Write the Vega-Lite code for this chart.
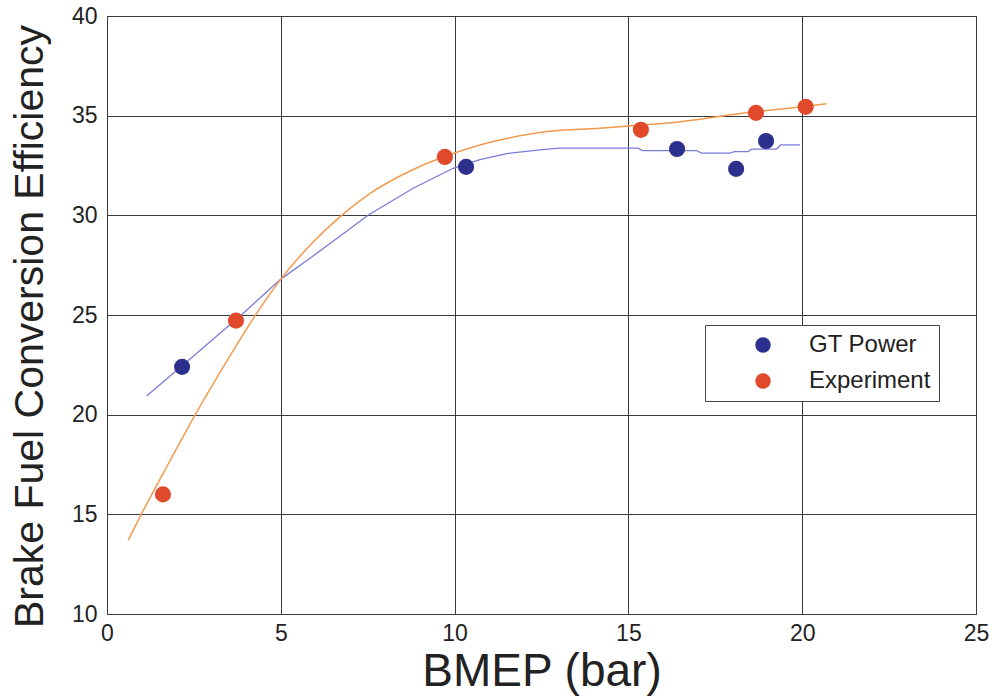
{
  "$schema": "https://vega.github.io/schema/vega-lite/v6.json",
  "autosize": "none",
  "width": 869,
  "height": 598,
  "padding": {"left": 107, "top": 16, "right": 18, "bottom": 84},
  "background": "white",
  "config": {
    "font": "Liberation Sans",
    "view": {"stroke": "#333333", "strokeWidth": 1},
    "axis": {
      "grid": true,
      "gridColor": "#3a3a3a",
      "gridOpacity": 1,
      "gridWidth": 1,
      "domain": false,
      "ticks": false,
      "labelFlush": false,
      "labelFont": "Liberation Sans",
      "labelFontSize": 23,
      "labelColor": "#222222",
      "titleFont": "Liberation Sans",
      "titleFontWeight": "normal",
      "titleColor": "#222222"
    },
    "legend": {
      "orient": "none",
      "legendX": 598,
      "legendY": 309,
      "strokeColor": "#444444",
      "fillColor": "white",
      "padding": 8,
      "symbolOffset": 38,
      "labelOffset": 34,
      "rowPadding": 12,
      "labelFont": "Liberation Sans",
      "labelFontSize": 24,
      "labelColor": "#222222",
      "symbolSize": 240,
      "symbolType": "circle",
      "symbolStrokeWidth": 0
    }
  },
  "datasets": {
    "points": [
      {"series": "GT Power", "bmep": 2.16, "eff": 22.4},
      {"series": "GT Power", "bmep": 10.33, "eff": 32.43},
      {"series": "GT Power", "bmep": 16.4, "eff": 33.33},
      {"series": "GT Power", "bmep": 18.1, "eff": 32.33},
      {"series": "GT Power", "bmep": 18.96, "eff": 33.73},
      {"series": "Experiment", "bmep": 1.61, "eff": 16.0},
      {"series": "Experiment", "bmep": 3.71, "eff": 24.72},
      {"series": "Experiment", "bmep": 9.72, "eff": 32.93},
      {"series": "Experiment", "bmep": 15.36, "eff": 34.29},
      {"series": "Experiment", "bmep": 18.67, "eff": 35.14},
      {"series": "Experiment", "bmep": 20.1, "eff": 35.44}
    ],
    "gtcurve": [
      {"bmep": 1.14, "eff": 20.94},
      {"bmep": 2.5, "eff": 22.95},
      {"bmep": 3.92, "eff": 25.09},
      {"bmep": 4.4, "eff": 25.85},
      {"bmep": 5.0, "eff": 26.8},
      {"bmep": 5.84, "eff": 27.85},
      {"bmep": 6.7, "eff": 28.95},
      {"bmep": 7.52, "eff": 30.02},
      {"bmep": 8.81, "eff": 31.36},
      {"bmep": 9.96, "eff": 32.36},
      {"bmep": 10.73, "eff": 32.8},
      {"bmep": 11.5, "eff": 33.1},
      {"bmep": 12.46, "eff": 33.28},
      {"bmep": 13.0, "eff": 33.37},
      {"bmep": 15.28, "eff": 33.37},
      {"bmep": 15.4, "eff": 33.25},
      {"bmep": 16.96, "eff": 33.25},
      {"bmep": 17.1, "eff": 33.12},
      {"bmep": 17.92, "eff": 33.12},
      {"bmep": 18.05, "eff": 33.2},
      {"bmep": 18.44, "eff": 33.2},
      {"bmep": 18.55, "eff": 33.32},
      {"bmep": 19.26, "eff": 33.32},
      {"bmep": 19.38, "eff": 33.53},
      {"bmep": 19.94, "eff": 33.53}
    ],
    "expcurve": [
      {"bmep": 0.61, "eff": 13.7},
      {"bmep": 1.0, "eff": 15.05},
      {"bmep": 1.8, "eff": 17.65},
      {"bmep": 2.56, "eff": 20.07},
      {"bmep": 3.4, "eff": 22.55},
      {"bmep": 4.31, "eff": 25.09},
      {"bmep": 5.0, "eff": 26.8},
      {"bmep": 5.84, "eff": 28.5},
      {"bmep": 6.75, "eff": 30.0},
      {"bmep": 7.57, "eff": 31.1},
      {"bmep": 8.81, "eff": 32.3},
      {"bmep": 9.96, "eff": 33.1},
      {"bmep": 10.73, "eff": 33.53},
      {"bmep": 11.5, "eff": 33.85},
      {"bmep": 12.65, "eff": 34.2},
      {"bmep": 14.18, "eff": 34.37},
      {"bmep": 15.05, "eff": 34.49},
      {"bmep": 16.5, "eff": 34.7},
      {"bmep": 18.5, "eff": 35.17},
      {"bmep": 20.0, "eff": 35.45},
      {"bmep": 20.7, "eff": 35.6}
    ]
  },
  "encoding": {
    "x": {
      "field": "bmep",
      "type": "quantitative",
      "scale": {"domain": [0, 25], "nice": false, "zero": false},
      "axis": {
        "values": [0, 5, 10, 15, 20, 25],
        "title": "BMEP (bar)",
        "titleFontSize": 46,
        "titleBaseline": "alphabetic",
        "titleY": 71,
        "labelPadding": 8
      }
    },
    "y": {
      "field": "eff",
      "type": "quantitative",
      "scale": {"domain": [10, 40], "nice": false, "zero": false},
      "axis": {
        "values": [10, 15, 20, 25, 30, 35, 40],
        "title": "Brake Fuel Conversion Efficiency",
        "titleFontSize": 41,
        "titleAngle": -90,
        "titleBaseline": "alphabetic",
        "titleX": -65,
        "titleY": 310,
        "labelPadding": 10
      }
    }
  },
  "layer": [
    {
      "data": {"name": "gtcurve"},
      "mark": {"type": "line", "color": "#7b7bd8", "strokeWidth": 1.3, "interpolate": "linear"}
    },
    {
      "data": {"name": "expcurve"},
      "mark": {"type": "line", "color": "#f39a4c", "strokeWidth": 1.5, "interpolate": "monotone"}
    },
    {
      "data": {"name": "points"},
      "mark": {"type": "point", "filled": true, "shape": "circle", "size": 260, "opacity": 1},
      "encoding": {
        "color": {
          "field": "series",
          "type": "nominal",
          "scale": {"domain": ["GT Power", "Experiment"], "range": ["#2c2f8c", "#e04a2b"]},
          "legend": {"title": null}
        }
      }
    }
  ]
}
